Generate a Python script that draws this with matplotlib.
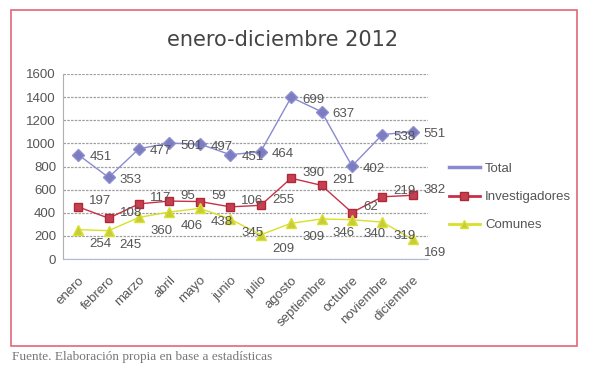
"""
Stacked line chart: enero-diciembre 2012 (Total / Investigadores / Comunes).
"""

import matplotlib
matplotlib.use("Agg")
import matplotlib.pyplot as plt
from matplotlib.patches import Rectangle
from matplotlib.lines import Line2D
import numpy as np

meses = ["enero", "febrero", "marzo", "abril", "mayo", "junio", "julio",
         "agosto", "septiembre", "octubre", "noviembre", "diciembre"]
comunes = [254, 245, 360, 406, 438, 345, 209, 309, 346, 340, 319, 169]
investigadores = [197, 108, 117, 95, 59, 106, 255, 390, 291, 62, 219, 382]
total = [451, 353, 477, 501, 497, 451, 464, 699, 637, 402, 538, 551]
yticks = [0, 200, 400, 600, 800, 1000, 1200, 1400, 1600]

plt.rcParams["font.family"] = ["Liberation Sans", "DejaVu Sans"]

W, H = 591, 378
fig = plt.figure(figsize=(W / 100, H / 100), dpi=100)

# red frame around the chart
fig.patches.append(Rectangle((11 / W, 1 - 346 / H), 566 / W, 336 / H,
                             transform=fig.transFigure, fill=False,
                             edgecolor="#e06878", linewidth=1.2))

ax = fig.add_axes([63 / W, 1 - 259 / H, 365 / W, 185 / H])

x = np.arange(len(meses))
# stacked series (Excel "stacked line")
y_com = np.array(comunes)
y_inv = y_com + np.array(investigadores)
y_tot = y_inv + np.array(total)

ax.plot(x, y_tot, color="#8a8ad0", lw=1.0, marker="D", ms=6,
        mfc="#7c7cc0", mec="#8e8ed0", zorder=3)
ax.plot(x, y_inv, color="#c83048", lw=1.0, marker="s", ms=6,
        mfc="#c44050", mec="#b02838", zorder=3)
ax.plot(x, y_com, color="#d8e028", lw=1.0, marker="^", ms=7,
        mfc="#c8cc38", mec="#d8e030", zorder=3)

lab_color = "#555555"
fs = 9.5
for xi, v, lbl in zip(x, y_tot, total):
    ax.annotate(str(lbl), (xi, v), xytext=(8, -2), textcoords="offset points",
                ha="left", va="center", fontsize=fs, color=lab_color)
for xi, v, lbl in zip(x, y_inv, investigadores):
    ax.annotate(str(lbl), (xi, v), xytext=(8, 4), textcoords="offset points",
                ha="left", va="center", fontsize=fs, color=lab_color)
for xi, v, lbl in zip(x, y_com, comunes):
    ax.annotate(str(lbl), (xi, v), xytext=(8, -10), textcoords="offset points",
                ha="left", va="center", fontsize=fs, color=lab_color)

ax.set_xlim(-0.5, len(meses) - 0.5)
ax.set_ylim(0, 1600)
ax.set_yticks(yticks)
ax.set_yticklabels([str(t) for t in yticks], fontsize=fs, color=lab_color)
ax.set_xticks(x)
ax.set_xticklabels(meses, rotation=45, ha="right", rotation_mode="anchor",
                   fontsize=fs, color=lab_color)
ax.tick_params(axis="both", length=0, pad=5)
ax.tick_params(axis="x", pad=11)

ax.grid(axis="y", color="#a0a0a0", lw=0.9, ls=(0, (2, 1)))
ax.set_axisbelow(True)
for s in ["top", "right"]:
    ax.spines[s].set_visible(False)
ax.spines["left"].set_color("#b0b0b0")
ax.spines["bottom"].set_color("#b0b8d8")
ax.spines["bottom"].set_linestyle((0, (2, 1)))

fig.text(283 / W, 1 - 40 / H, "enero-diciembre 2012", ha="center", va="center",
         fontsize=15, color="#444444", family=["DejaVu Sans"])

handles = [
    Line2D([], [], color="#8a8ad0", lw=2.5),
    Line2D([], [], color="#c83048", lw=2, marker="s", ms=6, mfc="#c44050", mec="#b02838"),
    Line2D([], [], color="#d8e028", lw=2, marker="^", ms=6, mfc="#c8cc38", mec="#d8e030"),
]
fig.legend(handles, ["Total", "Investigadores", "Comunes"], loc="upper left",
           bbox_to_anchor=(437 / W, 1 - 151 / H), frameon=False, fontsize=fs,
           handlelength=2.35, handletextpad=0.4, labelspacing=1.2,
           labelcolor=lab_color)

fig.text(12 / W, 1 - 357 / H, "Fuente. Elaboración propia en base a estadísticas",
         ha="left", va="center", fontsize=9.5, color="#777777",
         family=["Liberation Serif", "DejaVu Serif"])

fig.savefig("out.png", dpi=100)
